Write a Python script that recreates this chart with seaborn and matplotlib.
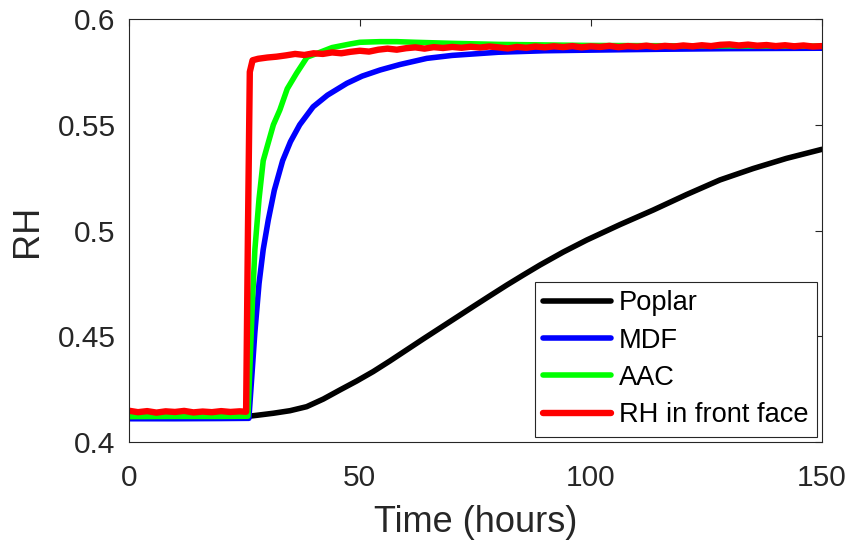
import pandas as pd
import numpy as np
import seaborn as sns
import matplotlib
import matplotlib.pyplot as plt

matplotlib.use("Agg")

black_t = [0, 10, 20, 25.3, 28.0, 31.3, 34.9, 38.5, 42.1, 45.7, 49.3, 52.9, 56.5, 60.1, 63.7,
           67.3, 70.9, 74.5, 78.2, 81.8, 85.4, 89.0, 94.0, 99.1, 106.3, 113.5, 120.7, 127.9,
           135.1, 142.3, 150]
black_rh = [0.4118, 0.4118, 0.4119, 0.4120, 0.4127, 0.4136, 0.4148, 0.4167, 0.4203, 0.4246,
            0.4288, 0.4333, 0.4383, 0.4435, 0.4487, 0.4538, 0.4589, 0.4640, 0.4692, 0.4742,
            0.4790, 0.4837, 0.4898, 0.4955, 0.5028, 0.5097, 0.5170, 0.5239, 0.5293, 0.5341,
            0.5384]

blue_t = [0, 10, 20, 26.0, 26.6, 27.3, 28.2, 29.1, 30.2, 31.5, 33.3, 35.0, 37.0, 39.9, 43.0,
          47.2, 50.5, 54.4, 58.7, 64.5, 70, 80, 90, 100, 115, 130, 150]
blue_rh = [0.4110, 0.4110, 0.4111, 0.4112, 0.430, 0.452, 0.475, 0.491, 0.505, 0.519, 0.533,
           0.542, 0.550, 0.5585, 0.564, 0.5696, 0.5730, 0.5759, 0.5785, 0.5814, 0.5828, 0.5843,
           0.5850, 0.5853, 0.5857, 0.5860, 0.5862]

green_t = [0, 10, 20, 25.8, 26.3, 26.8, 27.3, 28.2, 29.1, 30.0, 31.3, 32.7, 34.3, 36.3, 38.6,
           40.7, 44.0, 47.9, 50.0, 54.4, 58.0, 62, 70, 80, 100, 125, 150]
green_rh = [0.4120, 0.4121, 0.4121, 0.4122, 0.440, 0.468, 0.491, 0.515, 0.533, 0.540, 0.550,
            0.557, 0.567, 0.5743, 0.582, 0.5837, 0.5865, 0.5882, 0.5890, 0.5893, 0.5893, 0.5890,
            0.5885, 0.5880, 0.5875, 0.5873, 0.5872]

red_t = [0, 2, 4, 6, 8, 10, 12, 14, 16, 18, 20, 22, 24, 25.4, 25.8, 26.2, 26.8, 28, 30, 32, 34,
         36, 38, 40, 42, 44, 46, 48, 50, 52, 54, 56, 58,
         60, 62, 64, 66, 68, 70, 72, 74, 76, 78, 80, 82, 84, 86, 88, 90, 92, 94, 96, 98,
         100, 102, 104, 106, 108, 110, 112, 114, 116, 118, 120, 122, 124, 126, 128, 130,
         132, 134, 136, 138, 140, 142, 144, 146, 148, 150]
red_rh = [0.4148, 0.4141, 0.4146, 0.4139, 0.4145, 0.4142, 0.4147, 0.4140, 0.4144, 0.4141,
          0.4146, 0.4142, 0.4145, 0.4143, 0.500, 0.575, 0.5805, 0.5812, 0.5818, 0.5822, 0.5828,
          0.5835, 0.5830, 0.5838, 0.5835, 0.5842, 0.5838, 0.5845, 0.5850, 0.5846, 0.5855,
          0.5860, 0.5855,
          0.5862, 0.5866, 0.5860, 0.5867, 0.5863, 0.5868, 0.5864, 0.5869, 0.5865, 0.5870,
          0.5866, 0.5861, 0.5868, 0.5864, 0.5870, 0.5866, 0.5871, 0.5867, 0.5872, 0.5866,
          0.5871, 0.5868, 0.5873, 0.5867, 0.5872, 0.5869, 0.5874, 0.5868, 0.5873, 0.5870,
          0.5875, 0.5871, 0.5876, 0.5872, 0.5878, 0.5880, 0.5875, 0.5879, 0.5874, 0.5877,
          0.5872, 0.5876, 0.5871, 0.5875, 0.5870, 0.5872]

labels = ["Poplar", "MDF", "AAC", "RH in front face"]
colors = ["#000000", "#0000ff", "#00ff00", "#ff0000"]

series = [(black_t, black_rh), (blue_t, blue_rh), (green_t, green_rh), (red_t, red_rh)]

sns.set_style("white")
plt.rcParams['font.family'] = ['Liberation Sans', 'DejaVu Sans']
dark = "#262626"

fig = plt.figure(figsize=(8.49, 5.42), dpi=100)
ax = fig.add_axes([0.1516, 0.1845, 0.8166, 0.7804])

for (t, rh), lab, col in zip(series, labels, colors):
    df = pd.DataFrame({"Time": t, "RH": rh})
    lw = 4.6 if lab == "RH in front face" else 4.0
    sns.lineplot(data=df, x="Time", y="RH", color=col, linewidth=lw, label=lab,
                 estimator=None, ax=ax)

ax.set_xlim(0, 150)
ax.set_ylim(0.4, 0.6)
ax.set_xticks([0, 50, 100, 150])
ax.set_yticks([0.4, 0.45, 0.5, 0.55, 0.6])
ax.set_yticklabels(["0.4", "0.45", "0.5", "0.55", "0.6"])
ax.tick_params(direction="in", length=5, width=0.8, colors=dark, labelsize=21.5,
               top=True, right=True)
ax.tick_params(axis="x", pad=16)
ax.tick_params(axis="y", pad=9.5)
for s in ax.spines.values():
    s.set_color(dark)
    s.set_linewidth(0.8)

ax.set_xlabel("Time (hours)", fontsize=26, color=dark, labelpad=9)
ax.set_ylabel("RH", fontsize=26, color=dark, labelpad=9)

leg = ax.legend(loc="lower right", fontsize=19.6, frameon=True, fancybox=False,
                framealpha=1, edgecolor=dark, handlelength=2.5, handletextpad=0.3,
                labelspacing=0.42, borderaxespad=0.2, borderpad=0.3)
leg.get_frame().set_linewidth(0.8)
for txt in leg.get_texts():
    txt.set_color("black")

fig.savefig("out.png", dpi=100)
plt.close()
